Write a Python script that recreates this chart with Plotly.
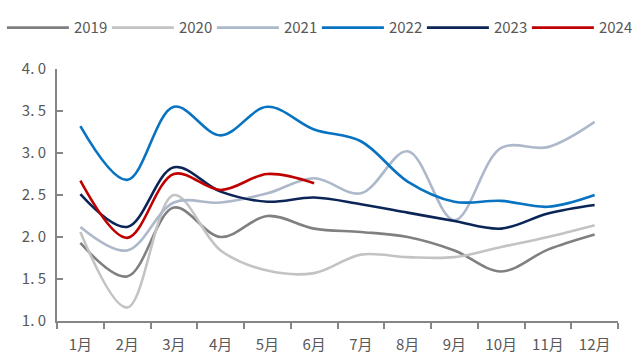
import plotly.graph_objects as go

months = ["1月", "2月", "3月", "4月", "5月", "6月", "7月", "8月", "9月", "10月", "11月", "12月"]

y2019 = [1.93, 1.53, 2.35, 2.00, 2.25, 2.10, 2.06, 2.00, 1.84, 1.59, 1.85, 2.03]
y2020 = [2.06, 1.16, 2.50, 1.84, 1.60, 1.57, 1.79, 1.76, 1.76, 1.88, 2.00, 2.14]
y2021 = [2.12, 1.84, 2.41, 2.41, 2.52, 2.70, 2.52, 3.02, 2.20, 3.06, 3.07, 3.37]
y2022 = [3.32, 2.68, 3.55, 3.21, 3.55, 3.28, 3.14, 2.66, 2.42, 2.43, 2.36, 2.50]
y2023 = [2.51, 2.12, 2.83, 2.54, 2.42, 2.47, 2.39, 2.29, 2.19, 2.10, 2.28, 2.38]
y2024 = [2.67, 1.99, 2.75, 2.56, 2.75, 2.64]

series = [
    ("2019", y2019, "#808080"),
    ("2020", y2020, "#c3c3c3"),
    ("2021", y2021, "#adb9ca"),
    ("2022", y2022, "#0873c1"),
    ("2023", y2023, "#0b2557"),
    ("2024", y2024, "#c00000"),
]

ytick_vals = [1.0, 1.5, 2.0, 2.5, 3.0, 3.5, 4.0]
ytick_text = ["1. 0", "1. 5", "2. 0", "2. 5", "3. 0", "3. 5", "4. 0"]

fig = go.Figure()
for i, (name, vals, color) in enumerate(series):
    # the legend row is split into two halves so it stays on one line
    fig.add_trace(go.Scatter(
        x=months[:len(vals)], y=vals, name=name, mode="lines",
        legend="legend" if i < 3 else "legend2",
        line=dict(color=color, width=2.6, shape="spline", smoothing=1.0),
    ))

axis_color = "#868686"
font_family = "Noto Sans CJK SC, Noto Sans, sans-serif"

legend_style = dict(
    orientation="h", xanchor="left", xref="container",
    yref="container", y=0.968, yanchor="top",
    entrywidth=28, entrywidthmode="pixels",
    itemwidth=62, font=dict(size=15, color="#595959"),
    bgcolor="rgba(0,0,0,0)", borderwidth=0,
)

fig.update_layout(
    width=635, height=354,
    margin=dict(l=57, r=17, t=69, b=33, autoexpand=False),
    paper_bgcolor="white", plot_bgcolor="white",
    font=dict(family=font_family, size=15, color="#595959"),
    showlegend=True,
    legend=dict(x=0.003, **legend_style),
    legend2=dict(x=0.003 + 315 / 635, **legend_style),
    xaxis=dict(
        type="category", categoryorder="array", categoryarray=months,
        range=[-0.5, 11.5], showgrid=False, zeroline=False,
        showline=True, linecolor=axis_color, linewidth=2,
        ticks="outside", tickson="boundaries", ticklen=6, tickwidth=2,
        tickcolor=axis_color, ticklabelstandoff=9,
        tickfont=dict(size=15, color="#595959"),
    ),
    yaxis=dict(
        range=[1.0, 4.0], showgrid=False, zeroline=False,
        showline=True, linecolor=axis_color, linewidth=2,
        tickvals=ytick_vals, ticktext=ytick_text,
        ticks="inside", ticklen=6, tickwidth=2, tickcolor=axis_color,
        ticklabelstandoff=6,
        tickfont=dict(size=15, color="#595959"),
    ),
)

fig.write_html("out.html")
